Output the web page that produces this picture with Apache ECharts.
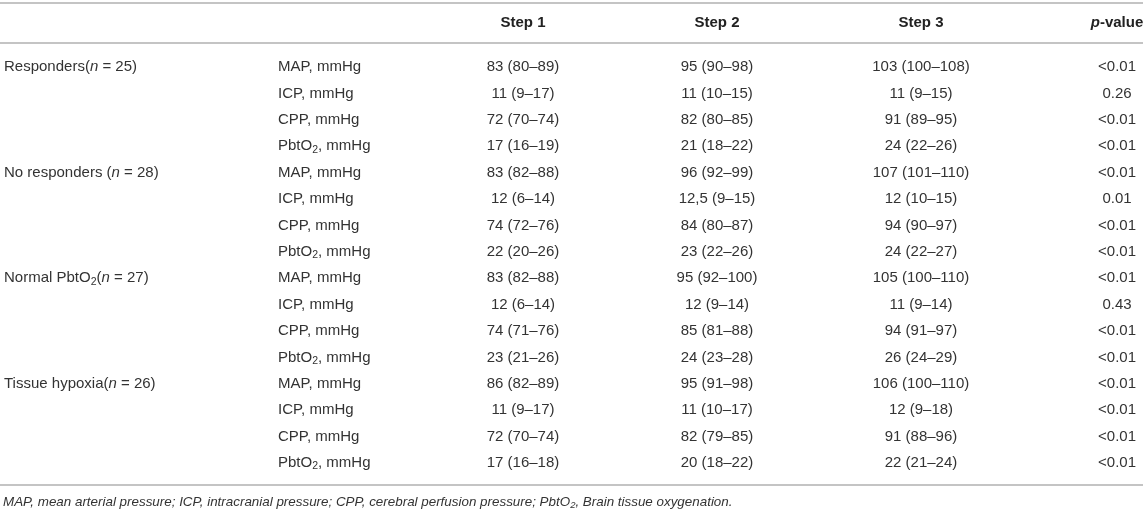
<!DOCTYPE html>
<html>
<head>
<meta charset="utf-8">
<script src="https://cdn.jsdelivr.net/npm/echarts@6/dist/echarts.min.js"></script>
<style>
  html, body { margin: 0; padding: 0; background: #fff; }
  #chart { width: 1143px; height: 511px; }
</style>
</head>
<body>
<div id="chart"></div>
<script>
// ============ 表格数据 ============
const groups = ['Responders', 'No responders ', 'Normal PbtO2', 'Tissue hypoxia'];
const groupN = [25, 28, 27, 26];
const measures = ['MAP', 'ICP', 'CPP', 'PbtO2'];
const unit = 'mmHg';
const columnHeaders = ['Step 1', 'Step 2', 'Step 3', 'p-value'];

const step1 = ['83 (80–89)', '11 (9–17)', '72 (70–74)', '17 (16–19)',
               '83 (82–88)', '12 (6–14)', '74 (72–76)', '22 (20–26)',
               '83 (82–88)', '12 (6–14)', '74 (71–76)', '23 (21–26)',
               '86 (82–89)', '11 (9–17)', '72 (70–74)', '17 (16–18)'];
const step2 = ['95 (90–98)', '11 (10–15)', '82 (80–85)', '21 (18–22)',
               '96 (92–99)', '12,5 (9–15)', '84 (80–87)', '23 (22–26)',
               '95 (92–100)', '12 (9–14)', '85 (81–88)', '24 (23–28)',
               '95 (91–98)', '11 (10–17)', '82 (79–85)', '20 (18–22)'];
const step3 = ['103 (100–108)', '11 (9–15)', '91 (89–95)', '24 (22–26)',
               '107 (101–110)', '12 (10–15)', '94 (90–97)', '24 (22–27)',
               '105 (100–110)', '11 (9–14)', '94 (91–97)', '26 (24–29)',
               '106 (100–110)', '12 (9–18)', '91 (88–96)', '22 (21–24)'];
const pValues = ['<0.01', '0.26', '<0.01', '<0.01',
                 '<0.01', '0.01', '<0.01', '<0.01',
                 '<0.01', '0.43', '<0.01', '<0.01',
                 '<0.01', '<0.01', '<0.01', '<0.01'];

const footnote = 'MAP, mean arterial pressure; ICP, intracranial pressure; ' +
  'CPP, cerebral perfusion pressure; PbtO2, Brain tissue oxygenation.';

// ============ 布局 ============
const FONT = '"Liberation Sans", Arial, Helvetica, sans-serif';
const TEXT_COLOR = '#333';
const RULE_COLOR = '#c4c4c4';
// 列锚点 (x 轴单位 = 像素)
const COL_X = { group: 4, measure: 278, s1: 523, s2: 717, s3: 921, p: 1117 };
// 行外元素在 y 轴上的位置 (行序号单位)
const HEADER_Y = -1.667;
const RULES_Y = [-2.424, -0.909, 15.833];
const FOOT_Y = 16.48;

const richStyles = {
  t:  { fill: TEXT_COLOR, fontSize: 15, fontFamily: FONT, lineHeight: 18 },
  ti: { fill: TEXT_COLOR, fontSize: 15, fontFamily: FONT, lineHeight: 18, fontStyle: 'italic' },
  ts: { fill: TEXT_COLOR, fontSize: 10.5, fontFamily: FONT, lineHeight: 10, verticalAlign: 'bottom' },
  h:  { fill: '#222', fontSize: 15, fontFamily: FONT, lineHeight: 18, fontWeight: 'bold' },
  hi: { fill: '#222', fontSize: 15, fontFamily: FONT, lineHeight: 18, fontWeight: 'bold', fontStyle: 'italic' },
  f:  { fill: TEXT_COLOR, fontSize: 13.4, fontFamily: FONT, lineHeight: 16, fontStyle: 'italic' },
  fs: { fill: TEXT_COLOR, fontSize: 9.5, fontFamily: FONT, lineHeight: 9, fontStyle: 'italic', verticalAlign: 'bottom' }
};

// PbtO2 -> 下标, "(n = " -> 斜体 n
function toRich(str, base) {
  let out = '';
  str.split(/(PbtO2|\(n = )/).forEach(part => {
    if (!part) return;
    if (part === 'PbtO2') {
      out += `{${base}|PbtO}{${base === 'f' ? 'fs' : 'ts'}|2}`;
    } else if (part === '(n = ') {
      out += `{${base}|(}{ti|n}{${base}| = }`;
    } else {
      out += `{${base}|${part}}`;
    }
  });
  return out;
}

// ============ 单元格 ============
const cells = [];
const nRows = groups.length * measures.length;

columnHeaders.forEach((h, i) => {
  const x = [COL_X.s1, COL_X.s2, COL_X.s3, COL_X.p][i];
  const text = h === 'p-value' ? '{hi|p}{h|-value}' : `{h|${h}}`;
  cells.push({ x, y: HEADER_Y, text, align: 'center' });
});

groups.forEach((g, gi) => {
  cells.push({ x: COL_X.group, y: gi * measures.length, text: toRich(`${g}(n = ${groupN[gi]})`, 't'), align: 'left' });
});

for (let r = 0; r < nRows; r++) {
  const m = measures[r % measures.length];
  cells.push({ x: COL_X.measure, y: r, text: toRich(`${m}, ${unit}`, 't'), align: 'left' });
  cells.push({ x: COL_X.s1, y: r, text: toRich(step1[r], 't'), align: 'center' });
  cells.push({ x: COL_X.s2, y: r, text: toRich(step2[r], 't'), align: 'center' });
  cells.push({ x: COL_X.s3, y: r, text: toRich(step3[r], 't'), align: 'center' });
  cells.push({ x: COL_X.p, y: r, text: toRich(pValues[r], 't'), align: 'center' });
}

cells.push({ x: 3, y: FOOT_Y, text: toRich(footnote, 'f'), align: 'left' });

// ============ 图表 ============
const chart = echarts.init(document.getElementById('chart'), null, { renderer: 'canvas' });

chart.setOption({
  animation: false,
  backgroundColor: '#fff',
  grid: { left: 0, right: 0, top: 67, bottom: 48 },
  xAxis: { type: 'value', min: 0, max: 1143, show: false },
  yAxis: { type: 'value', min: 0, max: nRows - 1, inverse: true, show: false },
  series: [
    {
      name: 'rules',
      type: 'custom',
      clip: false,
      silent: true,
      data: RULES_Y.map(y => [y]),
      renderItem(params, api) {
        const y = api.value(0);
        const a = api.coord([0, y]);
        const b = api.coord([1143, y]);
        return {
          type: 'line',
          shape: { x1: a[0], y1: Math.round(a[1]), x2: b[0], y2: Math.round(b[1]) },
          style: { stroke: RULE_COLOR, lineWidth: 2 }
        };
      }
    },
    {
      name: 'cells',
      type: 'custom',
      clip: false,
      silent: true,
      data: cells.map(c => [c.x, c.y]),
      renderItem(params, api) {
        const c = cells[params.dataIndex];
        const p = api.coord([api.value(0), api.value(1)]);
        return {
          type: 'text',
          x: p[0],
          y: p[1],
          style: {
            text: c.text,
            rich: richStyles,
            align: c.align,
            verticalAlign: 'middle',
            fontSize: 15,
            fontFamily: FONT,
            fill: TEXT_COLOR
          }
        };
      }
    }
  ]
});

window.addEventListener('resize', () => chart.resize());
</script>
</body>
</html>
